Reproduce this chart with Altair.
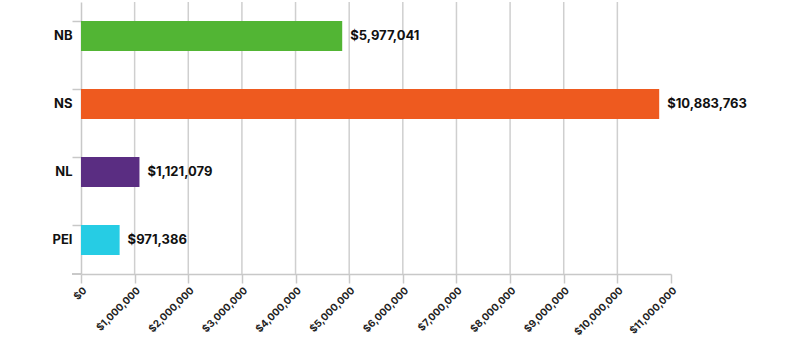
import altair as alt
import pandas as pd

provinces = ["NB", "NS", "NL", "PEI"]
bar_values = [4870000, 10780000, 1090000, 720000]
label_texts = ["$5,977,041", "$10,883,763", "$1,121,079", "$971,386"]
bar_colors = ["#52b534", "#ee5a1f", "#5a2d82", "#26cce4"]
tick_values = [0, 1000000, 2000000, 3000000, 4000000, 5000000, 6000000,
               7000000, 8000000, 9000000, 10000000, 11000000]
grid_values = [1000000, 2000000, 3000000, 4000000, 5000000, 6000000,
               7000000, 8000000, 9000000, 10000000]

FONT = "Inter"

df = pd.DataFrame({"province": provinces, "value": bar_values,
                   "label": label_texts, "color": bar_colors})
grid_df = pd.DataFrame({"g": grid_values})

xscale = alt.Scale(domain=[0, 11000000], nice=False, zero=True)
yscale = alt.Scale(domain=provinces, paddingInner=0.56, paddingOuter=0.28)

x_axis = alt.Axis(values=tick_values, format="$,.0f", labelAngle=-45,
                  labelFont=FONT, labelFontWeight="bold", labelFontSize=10,
                  labelColor="#222222", grid=False, domainColor="#c8c8c8",
                  domainWidth=1.5, tickColor="#c8c8c8", tickWidth=1.5,
                  tickSize=9, labelPadding=2, labelAlign="right",
                  labelBaseline="top")

grid = alt.Chart(grid_df).mark_rule(color="#cfcfcf", strokeWidth=1.5).encode(
    x=alt.X("g:Q", scale=xscale, axis=x_axis, title=None)
)

bars = alt.Chart(df).mark_bar().encode(
    x=alt.X("value:Q", scale=xscale, title=None, axis=x_axis),
    y=alt.Y("province:N", scale=yscale, sort=provinces, title=None,
            axis=alt.Axis(labelFont=FONT, labelFontWeight="bold", labelFontSize=13,
                          labelColor="#111111", grid=False, domainColor="#c8c8c8",
                          domainWidth=1.5, tickColor="#c8c8c8", tickWidth=1.5,
                          tickSize=9, labelPadding=0, bandPosition=0)),
    color=alt.Color("color:N", scale=None),
)

labels = alt.Chart(df).mark_text(align="left", baseline="middle", dx=8,
                                 font=FONT, fontWeight="bold", fontSize=13,
                                 color="#111111").encode(
    x=alt.X("value:Q", scale=xscale),
    y=alt.Y("province:N", scale=yscale, sort=provinces),
    text="label:N",
)

bottom_tick = alt.Chart(df).mark_rule(color="#c8c8c8", strokeWidth=1.5).encode(
    x=alt.value(-9), x2=alt.value(0), y=alt.value(272)
)

chart = alt.layer(grid, bars, labels, bottom_tick).properties(
    width=590, height=272,
    autosize=alt.AutoSizeParams(type="none"),
    padding={"left": 81, "top": 2, "right": 129, "bottom": 79},
).configure_view(stroke=None)

chart.save("out.html", embed_options={"renderer": "svg", "actions": False})
